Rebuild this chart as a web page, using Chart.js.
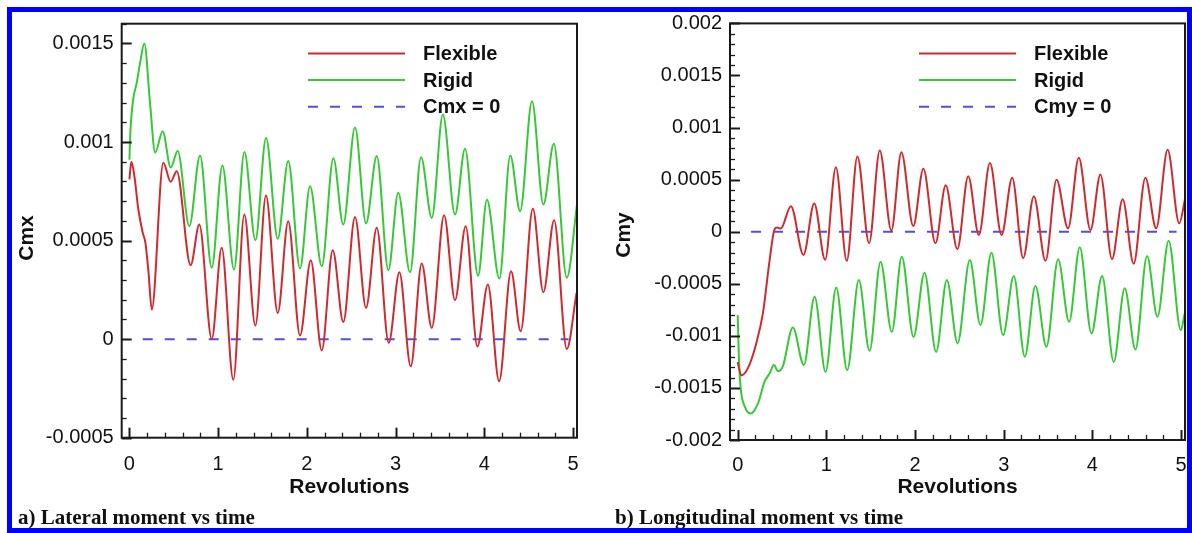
<!DOCTYPE html>
<html>
<head>
<meta charset="utf-8">
<script src="https://cdn.jsdelivr.net/npm/chart.js@4.4.1/dist/chart.umd.min.js"></script>
<style>
html,body{margin:0;padding:0;background:#fff;}
#wrap{position:relative;width:1192px;height:533px;overflow:hidden;background:#fff;}
#frame{position:absolute;left:7px;top:7px;width:1175px;height:516px;border:5px solid #0000ff;pointer-events:none;}
canvas{position:absolute;top:0;}
.cap{position:absolute;top:505px;font-family:"Liberation Serif","Times New Roman",serif;font-weight:bold;font-size:21px;color:#111;line-height:24px;white-space:nowrap;}
</style>
</head>
<body>
<div id="wrap">
  <canvas id="c1" width="596" height="533" style="left:0px;width:596px;height:533px;"></canvas>
  <canvas id="c2" width="596" height="533" style="left:596px;width:596px;height:533px;"></canvas>
  <div class="cap" style="left:18px;">a) Lateral moment vs time</div>
  <div class="cap" style="left:615px;">b) Longitudinal moment vs time</div>
  <div id="frame"></div>
</div>
<script>
// ---------------- DATA ----------------
const revTicks = [0, 1, 2, 3, 4, 5];
const revTickLabels = ['0', '1', '2', '3', '4', '5'];

const cmxTicks = [-0.0005, 0, 0.0005, 0.001, 0.0015];
const cmxTickLabels = ['-0.0005', '0', '0.0005', '0.001', '0.0015'];

const cmyTicks = [-0.002, -0.0015, -0.001, -0.0005, 0, 0.0005, 0.001, 0.0015, 0.002];
const cmyTickLabels = ['-0.002', '-0.0015', '-0.001', '-0.0005', '0', '0.0005', '0.001', '0.0015', '0.002'];

// Lateral moment (Cmx) - Flexible
const cmxFlexRev = [0.000,0.022,0.055,0.100,0.150,0.180,0.215,0.252,0.382,0.465,0.533,0.690,0.788,0.928,1.040,1.171,1.295,1.420,1.539,1.672,1.790,1.923,2.044,2.168,2.292,2.411,2.543,2.667,2.788,2.923,3.043,3.171,3.295,3.408,3.547,3.670,3.790,3.922,4.040,4.167,4.302,4.410,4.547,4.666,4.787,4.930,5.040];
const cmxFlexVal = [0.00081,0.00090,0.00083,0.00066,0.00054,0.00049,0.00034,0.00015,0.000895,0.000798,0.000852,0.000375,0.000581,0.000000,0.000463,-0.000206,0.000632,0.000069,0.000729,0.000133,0.000598,0.000018,0.000400,-0.000057,0.000451,0.000087,0.000620,0.000158,0.000565,-0.000019,0.000339,-0.000138,0.000383,0.000057,0.000629,0.000197,0.000573,-0.000037,0.000277,-0.000214,0.000344,0.000040,0.000661,0.000238,0.000603,-0.000050,0.000235];

// Lateral moment (Cmx) - Rigid
const cmxRigidRev = [0.000,0.012,0.044,0.082,0.120,0.168,0.232,0.290,0.375,0.465,0.544,0.675,0.796,0.928,1.048,1.179,1.296,1.420,1.540,1.672,1.790,1.923,2.036,2.168,2.299,2.410,2.543,2.667,2.788,2.919,3.030,3.163,3.287,3.408,3.533,3.670,3.783,3.930,4.030,4.170,4.293,4.404,4.538,4.666,4.784,4.930,5.047];
const cmxRigidVal = [0.00091,0.00106,0.00122,0.00130,0.00140,0.00150,0.00120,0.000946,0.001055,0.000870,0.000954,0.000573,0.000932,0.000362,0.000881,0.000353,0.000949,0.000502,0.001020,0.000509,0.000903,0.000358,0.000776,0.000370,0.000917,0.000581,0.001073,0.000587,0.000929,0.000350,0.000743,0.000339,0.000922,0.000615,0.001138,0.000632,0.000966,0.000322,0.000707,0.000307,0.000931,0.000649,0.001207,0.000683,0.000991,0.000311,0.000690];

// Longitudinal moment (Cmy) - Flexible
const cmyFlexRev = [0.000,0.040,0.115,0.210,0.284,0.360,0.416,0.445,0.485,0.600,0.742,0.863,0.986,1.107,1.230,1.350,1.482,1.602,1.733,1.846,1.980,2.094,2.230,2.346,2.477,2.600,2.720,2.845,2.976,3.096,3.220,3.340,3.472,3.596,3.726,3.847,3.979,4.091,4.222,4.342,4.466,4.598,4.720,4.849,4.980,5.050];
const cmyFlexVal = [-0.00125,-0.00138,-0.00131,-0.00107,-0.000785,-0.000272,0.000023,0.000040,0.000030,0.000245,-0.000223,0.000271,-0.000270,0.000620,-0.000280,0.000722,-0.000111,0.000780,0.000010,0.000763,0.000054,0.000605,-0.000111,0.000446,-0.000168,0.000532,-0.000032,0.000659,-0.000032,0.000519,-0.000254,0.000341,-0.000280,0.000500,0.000032,0.000710,0.000016,0.000550,-0.000264,0.000312,-0.000308,0.000519,0.000032,0.000786,0.000080,0.000334];

// Longitudinal moment (Cmy) - Rigid
const cmyRigidRev = [0.000,0.013,0.032,0.080,0.145,0.228,0.303,0.360,0.408,0.455,0.510,0.622,0.746,0.867,0.991,1.111,1.235,1.366,1.487,1.611,1.738,1.851,1.983,2.107,2.238,2.359,2.480,2.618,2.738,2.862,2.993,3.114,3.238,3.358,3.482,3.614,3.738,3.858,3.990,4.110,4.241,4.365,4.486,4.617,4.734,4.861,4.997,5.042];
const cmyRigidVal = [-0.00080,-0.00120,-0.00149,-0.00168,-0.001746,-0.00165,-0.00144,-0.00136,-0.00128,-0.00134,-0.00129,-0.00092,-0.00128,-0.000625,-0.001346,-0.000535,-0.00133,-0.000464,-0.001144,-0.000288,-0.000962,-0.000240,-0.001010,-0.000394,-0.001154,-0.000464,-0.001070,-0.000272,-0.000897,-0.000202,-0.000993,-0.000426,-0.001200,-0.000522,-0.001106,-0.000265,-0.000865,-0.000150,-0.000977,-0.000426,-0.001250,-0.000544,-0.001130,-0.000234,-0.000817,-0.000087,-0.000945,-0.000785];

// Zero reference lines
const zeroRev = [0.15, 4.95];
const zeroVal = [0, 0];

// ---------------- STYLE ----------------
const RED = '#d12a2e';
const GREEN = '#35c935';
const BLUE = '#4f4fe8';
const AXIS = '#1a1a1a';
const SANS = '"Liberation Sans", Arial, Helvetica, sans-serif';

function pts(xs, ys) { return xs.map((x, i) => ({ x: x, y: ys[i] })); }

const boxTicks = {
  id: 'boxTicks',
  afterDatasetsDraw(chart, args, o) {
    const { ctx, chartArea: a, scales } = chart;
    const xs = scales.x, ys = scales.y;
    ctx.save();
    ctx.strokeStyle = AXIS;
    ctx.lineCap = 'butt';
    // x ticks (bottom, inward)
    const xMinorStep = o.xMinorStep;
    for (let i = Math.ceil(xs.min / xMinorStep); i * xMinorStep <= xs.max; i++) {
      const v = i * xMinorStep;
      const major = Math.abs(v - Math.round(v / o.xMajorStep) * o.xMajorStep) < 1e-9;
      const px = Math.round(xs.getPixelForValue(v)) + 0.5;
      ctx.lineWidth = major ? 2 : 1.3;
      ctx.beginPath();
      ctx.moveTo(px, a.bottom);
      ctx.lineTo(px, a.bottom - (major ? 10 : 5));
      ctx.stroke();
    }
    // y ticks (left, inward)
    const yMinorStep = o.yMinorStep;
    const i0 = Math.round(ys.min / yMinorStep), i1 = Math.round(ys.max / yMinorStep);
    for (let i = i0; i <= i1; i++) {
      const v = i * yMinorStep;
      const major = (i % o.yMinorPerMajor) === 0;
      const py = Math.round(ys.getPixelForValue(v)) + 0.5;
      ctx.lineWidth = major ? 2 : 1.3;
      ctx.beginPath();
      ctx.moveTo(a.left, py);
      ctx.lineTo(a.left + (major ? 10 : 5), py);
      ctx.stroke();
    }
    // frame box
    ctx.lineWidth = 2;
    ctx.strokeRect(a.left, a.top, a.right - a.left, a.bottom - a.top);

    // y axis title (rotated)
    ctx.save();
    ctx.font = 'bold 21px ' + SANS;
    ctx.fillStyle = '#111';
    ctx.textAlign = 'center';
    ctx.textBaseline = 'middle';
    ctx.translate(o.yTitle.x, o.yTitle.y);
    ctx.rotate(-Math.PI / 2);
    ctx.fillText(o.yTitle.text, 0, 0);
    ctx.restore();

    // legend
    const L = o.legend;
    ctx.font = 'bold 20px ' + SANS;
    ctx.fillStyle = '#111';
    ctx.textBaseline = 'middle';
    ctx.textAlign = 'left';
    L.items.forEach((it, k) => {
      const ds = chart.data.datasets[it.ds];
      const yy = L.y[k];
      ctx.strokeStyle = ds.borderColor;
      ctx.lineWidth = 2;
      ctx.setLineDash(ds.borderDash || []);
      ctx.beginPath();
      ctx.moveTo(L.x1, yy);
      ctx.lineTo(L.x2, yy);
      ctx.stroke();
      ctx.setLineDash([]);
      ctx.fillText(ds.label, L.xt, yy + 1);
    });
    ctx.restore();
  }
};

function makeChart(id, c) {
  return new Chart(document.getElementById(id), {
    type: 'line',
    data: {
      datasets: [
        { label: 'Flexible', data: pts(c.flexRev, c.flexVal), borderColor: RED, borderWidth: 2, pointRadius: 0, cubicInterpolationMode: 'monotone', fill: false },
        { label: 'Rigid', data: pts(c.rigidRev, c.rigidVal), borderColor: GREEN, borderWidth: 2, pointRadius: 0, cubicInterpolationMode: 'monotone', fill: false },
        { label: c.zeroLabel, data: pts(zeroRev, zeroVal), borderColor: BLUE, borderWidth: 2, borderDash: [10, 12], pointRadius: 0, fill: false }
      ]
    },
    options: {
      responsive: false,
      animation: false,
      devicePixelRatio: 1,
      layout: { padding: { left: 0, top: c.top, right: c.padRight, bottom: 0 } },
      plugins: {
        legend: { display: false },
        tooltip: { enabled: false },
        boxTicks: {
          xMinorStep: 0.2, xMajorStep: 1,
          yMinorStep: 0.0001, yMinorPerMajor: 5,
          legend: c.legend,
          yTitle: { text: c.yTitle, x: c.yTitleX, y: c.yTitleY }
        }
      },
      scales: {
        x: {
          type: 'linear', min: -0.087, max: 5.045,
          afterFit: s => { s.height = 533 - c.bottom; s.paddingLeft = 0; s.paddingRight = 0; },
          afterBuildTicks: s => { s.ticks = revTicks.map(v => ({ value: v })); },
          ticks: { font: { family: SANS, size: 20 }, color: '#111', padding: c.xLabelPad, maxRotation: 0, autoSkip: false,
                   callback: (v, i) => revTickLabels[i] },
          grid: { display: false, drawTicks: false },
          border: { display: false },
          title: { display: true, text: 'Revolutions', color: '#111', font: { family: SANS, size: 21, weight: 'bold' }, padding: { top: 0, bottom: 33 } }
        },
        y: {
          type: 'linear', min: c.yMin, max: c.yMax,
          afterFit: s => { s.width = c.left; s.paddingTop = 0; s.paddingBottom = 0; },
          afterBuildTicks: s => { s.ticks = c.yTicks.map(v => ({ value: v })); },
          ticks: { font: { family: SANS, size: 20 }, color: '#111', padding: 8, autoSkip: false,
                   callback: (v, i) => c.yTickLabels[i] },
          grid: { display: false, drawTicks: false },
          border: { display: false },
          title: { display: false }
        }
      }
    },
    plugins: [boxTicks]
  });
}

makeChart('c1', {
  flexRev: cmxFlexRev, flexVal: cmxFlexVal, rigidRev: cmxRigidRev, rigidVal: cmxRigidVal,
  zeroLabel: 'Cmx = 0', yTitle: 'Cmx', yTitleX: 27.5, yTitleY: 238,
  yMin: -0.0005, yMax: 0.0016, yTicks: cmxTicks, yTickLabels: cmxTickLabels,
  left: 121.7, top: 23.7, bottom: 437.7, padRight: 19, xLabelPad: 15,
  legend: { x1: 308, x2: 405, xt: 423, y: [53.5, 80, 106.7], items: [{ ds: 0 }, { ds: 1 }, { ds: 2 }] }
});

makeChart('c2', {
  flexRev: cmyFlexRev, flexVal: cmyFlexVal, rigidRev: cmyRigidRev, rigidVal: cmyRigidVal,
  zeroLabel: 'Cmy = 0', yTitle: 'Cmy', yTitleX: 28, yTitleY: 235,
  yMin: -0.002, yMax: 0.002, yTicks: cmyTicks, yTickLabels: cmyTickLabels,
  left: 134, top: 23.4, bottom: 440, padRight: 7, xLabelPad: 13,
  legend: { x1: 323, x2: 420, xt: 438, y: [53.5, 80, 106.7], items: [{ ds: 0 }, { ds: 1 }, { ds: 2 }] }
});
</script>
</body>
</html>
